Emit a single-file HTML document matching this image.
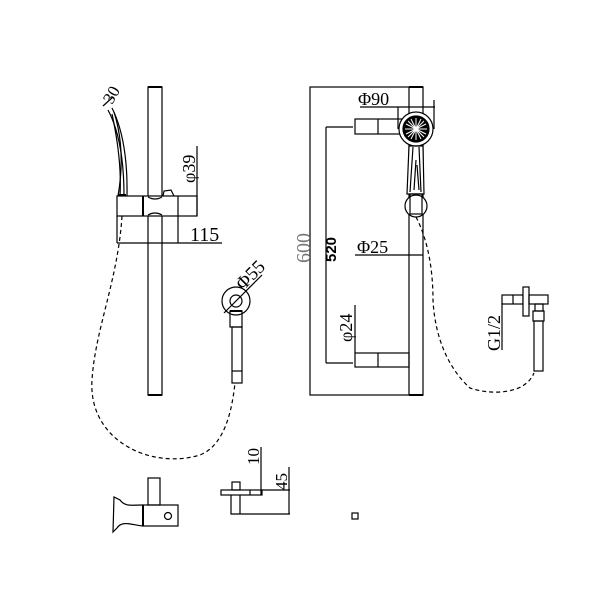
<!DOCTYPE html>
<html><head><meta charset="utf-8"><style>
html,body{margin:0;padding:0;background:#fff;}
svg{display:block}
text{font-family:"Liberation Serif",serif;fill:#000}
</style></head><body>
<svg width="610" height="610" viewBox="0 0 610 610" xmlns="http://www.w3.org/2000/svg" fill="none" stroke="#000" stroke-width="1.2">
<!-- LEFT VIEW -->
<rect x="148" y="87" width="14" height="308"/>
<line x1="148" y1="87" x2="162" y2="87" stroke-width="2"/>
<line x1="148" y1="395" x2="162" y2="395" stroke-width="2"/>
<rect x="117" y="196" width="80" height="20" fill="#fff"/>
<line x1="143" y1="196" x2="143" y2="216" stroke-width="2"/>
<line x1="178" y1="196" x2="178" y2="243"/>
<path d="M148 197 Q155 201 162 197 M148 215 Q155 211 162 215"/>
<path d="M163 196 L164 191 L171 190 L174 196"/>
<path d="M108 110 Q124 140 124 196"/>
<path d="M112 108 Q128 140 127 196"/>
<path d="M114 112 Q126 150 118 196"/>
<path d="M112 114 Q122 160 120 196"/>
<line x1="118" y1="195" x2="126" y2="195" stroke-width="2"/>
<line x1="103" y1="106" x2="113" y2="97"/>
<text font-size="17" transform="translate(112,105) rotate(-60)" stroke="none">30</text>
<line x1="197" y1="146" x2="197" y2="216"/>
<text font-size="18" transform="translate(195,183) rotate(-90)" stroke="none">φ39</text>
<line x1="117" y1="216" x2="117" y2="243"/>
<line x1="117" y1="243" x2="222" y2="243"/>
<text x="190" y="241" font-size="20" stroke="none">115</text>
<circle cx="236" cy="301" r="14"/>
<circle cx="236" cy="301" r="6"/>
<line x1="224" y1="313" x2="262" y2="275"/>
<text font-size="19" transform="translate(243,291) rotate(-45)" stroke="none">Φ55</text>
<rect x="230" y="311" width="12" height="16"/>
<rect x="232" y="327" width="10" height="56"/>
<line x1="232" y1="371" x2="242" y2="371"/>
<line x1="230" y1="311" x2="242" y2="311" stroke-width="2"/>
<path d="M122 216 C118 280 95 330 92 380 C88 440 150 470 200 455 C225 445 232 410 235 383" stroke-dasharray="4,3"/>
<!-- RIGHT VIEW -->
<rect x="310" y="87" width="113" height="308"/>
<line x1="409" y1="87" x2="409" y2="395"/>
<line x1="409" y1="87" x2="423" y2="87" stroke-width="2"/>
<line x1="409" y1="395" x2="423" y2="395" stroke-width="2"/>
<rect x="355" y="119" width="54" height="15"/>
<line x1="378" y1="119" x2="378" y2="134"/>
<rect x="355" y="353" width="54" height="14"/>
<line x1="378" y1="353" x2="378" y2="367"/>
<line x1="326" y1="127" x2="353" y2="127"/>
<line x1="326" y1="127" x2="326" y2="363"/>
<line x1="326" y1="363" x2="353" y2="363"/>
<text font-size="15" font-weight="bold" transform="translate(336,262) rotate(-90)" stroke="none" style="font-family:'Liberation Sans',sans-serif">520</text>
<text font-size="20" transform="translate(310,263) rotate(-90)" stroke="none" style="fill:#777">600</text>
<line x1="360" y1="107" x2="435" y2="107"/>
<line x1="398" y1="107" x2="398" y2="129"/>
<line x1="434" y1="100" x2="434" y2="129"/>
<text x="358" y="105" font-size="18" stroke="none">Φ90</text>
<circle cx="416" cy="129" r="17" fill="#fff"/>
<circle cx="416" cy="129" r="13" fill="#000"/>
<g stroke="#fff" stroke-width="1">
<line x1="416" y1="118" x2="416" y2="140"/><line x1="405" y1="129" x2="427" y2="129"/>
<line x1="408" y1="121" x2="424" y2="137"/><line x1="424" y1="121" x2="408" y2="137"/>
<line x1="411" y1="119" x2="421" y2="139"/><line x1="421" y1="119" x2="411" y2="139"/>
<line x1="406" y1="124" x2="426" y2="134"/><line x1="426" y1="124" x2="406" y2="134"/>
</g>
<circle cx="416" cy="129" r="2" fill="#fff" stroke="none"/>
<path d="M409 146 L423 146 L424 194 L407 194 Z" fill="#fff"/>
<path d="M413 147 L410 192 M419 147 L421 192 M416 160 L414 190 M417 165 L419 190"/>
<circle cx="416" cy="206" r="11" fill="#fff"/>
<rect x="410" y="194" width="12" height="20"/>
<line x1="355" y1="255" x2="423" y2="255"/>
<text x="357" y="253" font-size="18" stroke="none">Φ25</text>
<line x1="355" y1="305" x2="355" y2="353"/>
<text font-size="18" transform="translate(352,342) rotate(-90)" stroke="none">φ24</text>
<path d="M416 217 C428 240 433 270 433 300 C435 340 450 370 470 388 C490 395 525 395 534 373" stroke-dasharray="4,3"/>
<rect x="502" y="295" width="21" height="9"/>
<line x1="513" y1="295" x2="513" y2="304"/>
<rect x="523" y="287" width="6" height="29" fill="#fff"/>
<rect x="529" y="295" width="19" height="9"/>
<rect x="535" y="304" width="8" height="7"/>
<rect x="533" y="311" width="11" height="10"/>
<rect x="534" y="321" width="9" height="50"/>
<line x1="502" y1="303" x2="502" y2="350"/>
<text font-size="18" transform="translate(500,351) rotate(-90)" stroke="none">G1/2</text>
<rect x="148" y="478" width="12" height="27"/>
<rect x="143" y="505" width="35" height="21"/>
<line x1="143" y1="505" x2="143" y2="526" stroke-width="2"/>
<path d="M143 505 C132 505 125 507 120 500 L114 497 L113 532 L117 528 C122 520 132 525 143 526"/>
<circle cx="168" cy="516" r="3.5"/>
<rect x="221" y="490" width="41" height="5"/>
<rect x="232" y="482" width="8" height="8"/>
<path d="M231 495 L231 514 L290 514"/>
<line x1="240" y1="495" x2="240" y2="514"/>
<line x1="250" y1="490" x2="250" y2="495"/>
<line x1="261" y1="447" x2="261" y2="495"/>
<line x1="262" y1="490" x2="290" y2="490"/>
<line x1="289" y1="467" x2="289" y2="514"/>
<text font-size="17" transform="translate(259,465) rotate(-90)" stroke="none">10</text>
<text font-size="17" transform="translate(287,490) rotate(-90)" stroke="none">45</text>
<rect x="352" y="513" width="6" height="6"/>
</svg>
</body></html>
